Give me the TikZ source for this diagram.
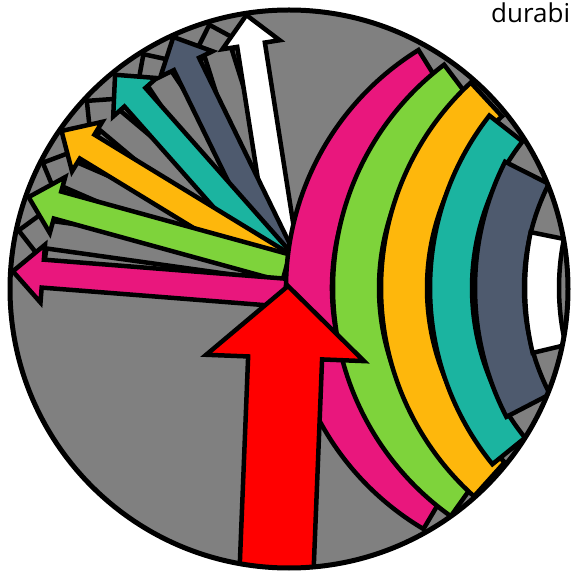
\documentclass[tikz,border=0pt]{standalone}
\usepackage{fontspec}
\setmainfont{Open Sans}
\definecolor{fanpink}{HTML}{E9177D}
\definecolor{fangreen}{HTML}{7ED33B}
\definecolor{fanorange}{HTML}{FEB70C}
\definecolor{fanteal}{HTML}{1BB4A0}
\definecolor{fanslate}{HTML}{4E5A6E}
\definecolor{discgray}{HTML}{808080}
\tikzset{outl/.style={draw=black,line width=4.5pt,line join=miter}}
% block arrow: tail point, angle, length, fill
\newcommand{\fanarrow}[4]{%
 \begin{scope}[shift={(#1)},rotate=#2]
 \draw[outl,fill=#4] (0,-14) -- (#3-30,-14) -- (#3-30,-29) -- (#3,0) -- (#3-30,29) -- (#3-30,14) -- (0,14) -- cycle;
 \end{scope}}
% arc band: centre x, outer r, inner r, start, end, fill
\newcommand{\colband}[6]{%
 \draw[outl,fill=#6] ([shift={(#4:#2)}]#1,283) arc[start angle=#4,end angle=#5,radius=#2]
 -- ([shift={(#5:#3)}]#1,283) arc[start angle=#5,end angle=#4,radius=#3] -- cycle;}
\begin{document}
\begin{tikzpicture}[x=1pt,y=1pt]
\useasboundingbox (0,0) rectangle (571,571);
\begin{scope}
\clip (289,282) circle[radius=279];
\fill[discgray] (289,282) circle[radius=279];
% fan of arrows
\foreach \a/\l in {172/270,156.6/265,140/260,123.7/257,107.5/255}
 {\fanarrow{286,303}{\a}{\l}{discgray}}
\fanarrow{286,303}{98.9}{256}{white}
\fanarrow{286,303}{116}{257}{fanslate}
\fanarrow{286,303}{131.5}{258}{fanteal}
\fanarrow{286,303}{148.6}{263}{fanorange}
\fanarrow{286,303}{164.6}{267}{fangreen}
\fanarrow{289,278}{175.5}{277}{fanpink}
% bands
\colband{566}{280}{234}{121.8}{239.4}{fanpink}
\colband{613}{280}{234}{127.1}{234.6}{fangreen}
\colband{661}{280}{234}{132.8}{228.1}{fanorange}
\colband{710}{280}{238}{142}{219}{fanteal}
\colband{755}{280}{231}{153.2}{207.4}{fanslate}
\colband{805}{280}{246}{168.5}{193.4}{white}
% red arrow
\begin{scope}[shift={(288,285)},rotate=-2.3]
\draw[outl,fill=red] (0,0) -- (-79,-72) -- (-37,-72) -- (-37,-320) -- (37,-320) -- (37,-72) -- (79,-72) -- cycle;
\end{scope}
\end{scope}
\draw[line width=5pt] (289,282) circle[radius=279];
\node[anchor=base west,font=\fontsize{26}{31}\selectfont,inner sep=0pt] (lbl) at (491,548) {durabi};
\end{tikzpicture}
\end{document}
